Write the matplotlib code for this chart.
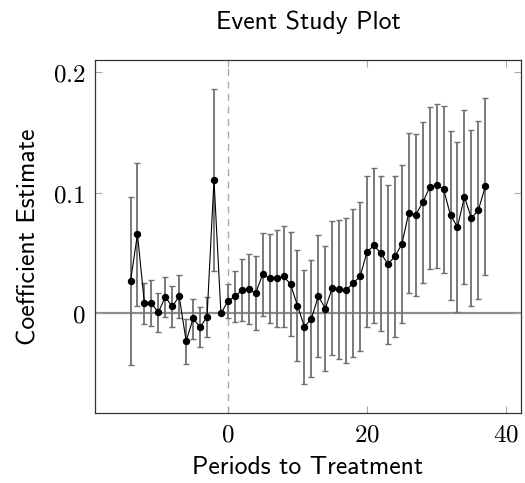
import matplotlib
matplotlib.use("Agg")
import matplotlib.pyplot as plt
import numpy as np

# periods relative to treatment (-1 is the omitted reference period)
periods = list(range(-14, 38))

coef = [0.0268, 0.0658, 0.0083, 0.0083, 0.0011, 0.0136, 0.0058, 0.0141,
        -0.0230, -0.0041, -0.0116, -0.0028, 0.1107, 0.0,
        0.0102, 0.0141, 0.0191, 0.0199, 0.0169, 0.0326, 0.0293, 0.0293,
        0.0307, 0.0243, 0.0066, -0.0111, -0.0044, 0.0144, 0.0041, 0.0213,
        0.0199, 0.0194, 0.0252, 0.0307, 0.0512, 0.0564, 0.0498, 0.0409,
        0.0473, 0.0575, 0.0835, 0.0819, 0.0921, 0.1046, 0.1065, 0.1032,
        0.0813, 0.0719, 0.0965, 0.0791, 0.0858, 0.1054]

ci_upper = [0.0963, 0.1248, 0.0252, 0.0277, 0.0172, 0.0304, 0.0230, 0.0321,
            -0.0044, 0.0122, 0.0050, 0.0136, 0.1859, 0.0,
            0.0246, 0.0349, 0.0451, 0.0490, 0.0476, 0.0667, 0.0658, 0.0694,
            0.0725, 0.0672, 0.0528, 0.0362, 0.0443, 0.0653, 0.0562, 0.0769,
            0.0775, 0.0794, 0.0863, 0.0924, 0.1140, 0.1206, 0.1142, 0.1065,
            0.1140, 0.1231, 0.1499, 0.1488, 0.1591, 0.1712, 0.1740, 0.1721,
            0.1513, 0.1425, 0.1685, 0.1519, 0.1593, 0.1787]

ci_lower = [-0.0429, 0.0061, -0.0086, -0.0102, -0.0155, -0.0033, -0.0111, -0.0039,
            -0.0418, -0.0213, -0.0282, -0.0191, 0.0354, 0.0,
            -0.0041, -0.0072, -0.0066, -0.0091, -0.0141, -0.0017, -0.0075, -0.0108,
            -0.0108, -0.0188, -0.0393, -0.0581, -0.0528, -0.0357, -0.0481, -0.0343,
            -0.0376, -0.0412, -0.0360, -0.0313, -0.0113, -0.0077, -0.0149, -0.0252,
            -0.0194, -0.0080, 0.0169, 0.0147, 0.0254, 0.0371, 0.0379, 0.0335,
            0.0111, 0.0014, 0.0246, 0.0064, 0.0124, 0.0315]

xticks = [0, 20, 40]
yticks = [0, 0.1, 0.2]
ytick_labels = ["$0$", "$0.1$", "$0.2$"]

plt.rcParams["mathtext.fontset"] = "cm"
sans = "cmss10"

x = np.array(periods)
y = np.array(coef)
err = [y - np.array(ci_lower), np.array(ci_upper) - y]

fig = plt.figure(figsize=(5.25, 4.83), dpi=100)
ax = fig.add_axes([0.181, 0.145, 0.811, 0.731])

ax.axhline(0, color="#8c8c8c", lw=1.6, zorder=1)
ax.axvline(0, color="#aaaaaa", lw=1.0, ls=(0, (5, 4)), zorder=1)
ax.errorbar(x, y, yerr=err, fmt="none", ecolor="#707070", elinewidth=1.3,
            capsize=2.3, capthick=1.0, zorder=2)
ax.plot(x, y, color="black", lw=0.8, marker="o", ms=4.3, zorder=3)

# pgfplots style: enlarge limits by 10% of the data range
xr = x.max() - x.min()
ax.set_xlim(x.min() - 0.1 * xr, x.max() + 0.1 * xr)
lo, hi = min(ci_lower), max(ci_upper)
ax.set_ylim(lo - 0.1 * (hi - lo), hi + 0.1 * (hi - lo))

ax.set_xticks(xticks)
ax.set_xticklabels(["$%d$" % t for t in xticks])
ax.set_yticks(yticks)
ax.set_yticklabels(ytick_labels)
ax.tick_params(direction="in", top=True, right=True, length=5, width=0.8,
               color="#aaaaaa", labelsize=18, pad=7)
for s in ax.spines.values():
    s.set_linewidth(0.9)
    s.set_color("#333333")

ax.set_title("Event Study Plot", fontsize=18.5, family=sans, pad=22)
ax.set_xlabel("Periods to Treatment", fontsize=18.5, family=sans, labelpad=7)
ax.set_ylabel("Coefficient Estimate", fontsize=18.5, family=sans, labelpad=9)

fig.savefig("out.png", dpi=100)
